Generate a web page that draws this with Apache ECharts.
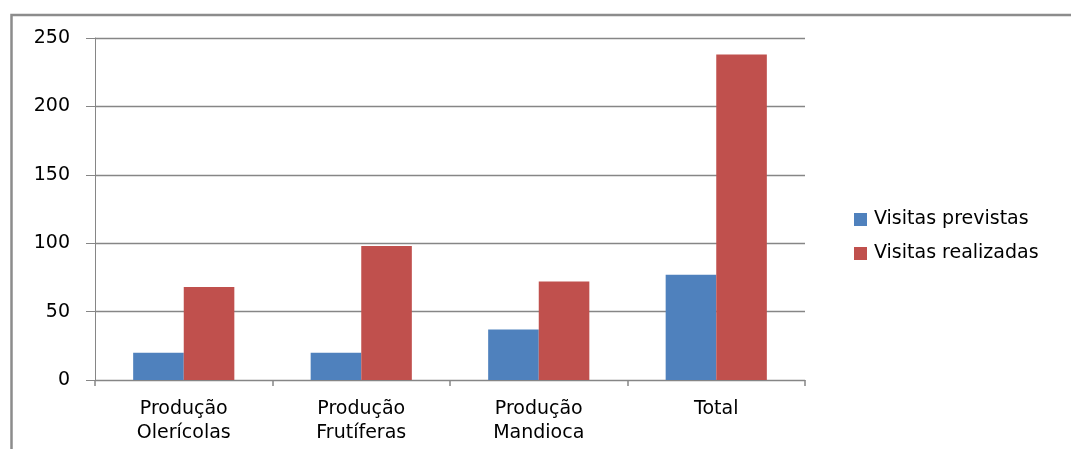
<!DOCTYPE html>
<html>
<head>
<meta charset="utf-8">
<script src="https://cdn.jsdelivr.net/npm/echarts@6/dist/echarts.min.js"></script>
<style>
  html, body { margin: 0; padding: 0; background: #ffffff; overflow: hidden; }
  #chart { width: 1071px; height: 449px; }
</style>
</head>
<body>
<div id="chart"></div>
<script>
// Categories and visit counts
const categories = ['Produção\nOlerícolas', 'Produção\nFrutíferas', 'Produção\nMandioca', 'Total'];
const visitasPrevistas = [20, 20, 37, 77];
const visitasRealizadas = [68, 98, 72, 238];
const seriesNames = ['Visitas previstas', 'Visitas realizadas'];
const yMax = 250;
const yStep = 50;

const gray = '#868686';
const chart = echarts.init(document.getElementById('chart'), null, { renderer: 'canvas' });

chart.setOption({
  animation: false,
  backgroundColor: '#ffffff',
  graphic: [{
    type: 'polyline',
    shape: { points: [[11.5, 460], [11.5, 15], [1080, 15]] },
    style: { fill: 'none', stroke: '#8c8c8c', lineWidth: 2.5 },
    silent: true
  }],
  grid: { left: 95, right: 266, top: 38, bottom: 69, containLabel: false },
  legend: {
    orient: 'vertical',
    left: 849,
    top: 205,
    itemWidth: 13,
    itemHeight: 13,
    itemGap: 15,
    icon: 'rect',
    textStyle: { fontFamily: 'DejaVu Sans', fontSize: 19, color: '#000000', padding: [0, 0, 0, 2] },
    data: seriesNames
  },
  xAxis: {
    type: 'category',
    data: categories,
    axisLine: { show: true, lineStyle: { color: gray, width: 1 } },
    axisTick: { show: true, length: 6, lineStyle: { color: gray, width: 1.5 } },
    axisLabel: {
      margin: 17,
      fontFamily: 'DejaVu Sans',
      fontSize: 19,
      lineHeight: 24,
      color: '#000000'
    }
  },
  yAxis: {
    type: 'value',
    min: 0,
    max: yMax,
    interval: yStep,
    axisLine: { show: true, lineStyle: { color: gray, width: 1 } },
    axisTick: { show: true, length: 9, lineStyle: { color: gray, width: 1 } },
    splitLine: { show: true, lineStyle: { color: gray, width: 1.3 } },
    axisLabel: {
      margin: 25,
      fontFamily: 'DejaVu Sans',
      fontSize: 19,
      color: '#000000'
    }
  },
  series: [
    {
      name: seriesNames[0],
      type: 'bar',
      data: visitasPrevistas,
      itemStyle: { color: '#4f81bd' },
      barGap: '0%',
      barCategoryGap: '43%'
    },
    {
      name: seriesNames[1],
      type: 'bar',
      data: visitasRealizadas,
      itemStyle: { color: '#c0504d' },
      barGap: '0%',
      barCategoryGap: '43%'
    }
  ]
});
</script>
</body>
</html>
